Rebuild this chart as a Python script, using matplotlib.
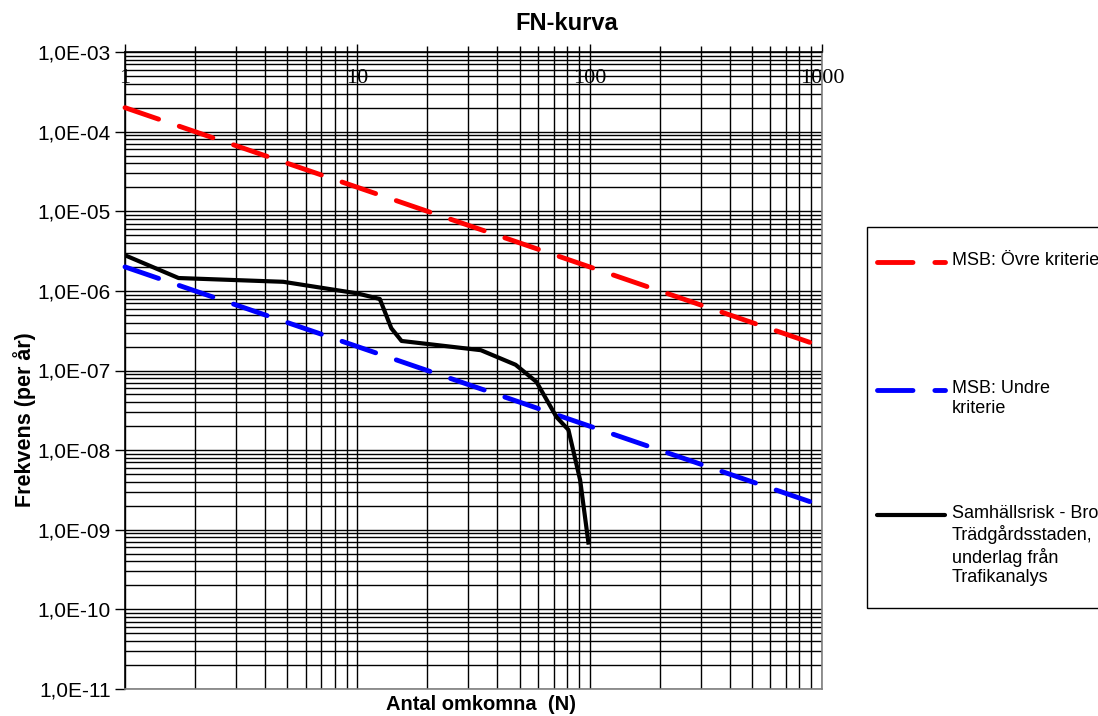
import matplotlib
matplotlib.use("Agg")
import matplotlib.pyplot as plt
from matplotlib.ticker import LogLocator, FuncFormatter, NullFormatter, FixedLocator
from matplotlib.lines import Line2D
from matplotlib.patches import Rectangle
import numpy as np

plt.rcParams['font.family'] = ['Liberation Sans', 'DejaVu Sans']

# kriterielinjer (MSB)
n_krit = [1, 1000]
ovre = [2e-4, 2e-7]
undre = [2e-6, 2e-9]

# samhällsrisk
n_risk = [1.0, 1.7, 4.8, 10.0, 12.5, 14.0, 15.5, 34.0, 48.0, 59.0, 72.0, 81.0, 91.0, 99.0]
f_risk = [2.8e-6, 1.45e-6, 1.3e-6, 9.3e-7, 7.9e-7, 3.4e-7, 2.35e-7, 1.8e-7,
          1.18e-7, 7.2e-8, 2.6e-8, 1.8e-8, 4.2e-9, 6.5e-10]

x_ticks = [1, 10, 100, 1000]
x_ticklabels = ['1', '10', '100', '1000']

W, H = 1098, 716
streck = (7.3, 4.5)

fig = plt.figure(figsize=(10.98, 7.16), dpi=100)
ax = fig.add_axes([125/W, 27/H, 697/W, 637/H])

ax.set_xscale('log')
ax.set_yscale('log')
ax.set_xlim(1, 1000)
ax.set_ylim(1e-11, 1e-3)

ax.plot(n_krit, ovre, color='#ff0000', lw=3.5, dashes=streck,
        dash_capstyle='round', clip_on=False, zorder=3)
ax.plot(n_krit, undre, color='#0000ff', lw=3.5, dashes=streck,
        dash_capstyle='round', clip_on=False, zorder=3)
ax.plot(n_risk, f_risk, color='black', lw=3, solid_joinstyle='round',
        solid_capstyle='butt', zorder=4)

# rutnät
ax.xaxis.set_major_locator(FixedLocator(x_ticks))
ax.xaxis.set_minor_locator(LogLocator(base=10, subs=np.arange(2, 10), numticks=20))
ax.yaxis.set_major_locator(LogLocator(base=10, numticks=20))
ax.yaxis.set_minor_locator(LogLocator(base=10, subs=np.arange(2, 10), numticks=20))
ax.xaxis.set_minor_formatter(NullFormatter())
ax.yaxis.set_minor_formatter(NullFormatter())
ax.grid(True, which='both', color='black', lw=1)
ax.set_axisbelow(True)

ax.set_xticklabels(x_ticklabels, fontfamily='Liberation Serif', fontsize=16)
ax.tick_params(axis='x', which='both', top=True, bottom=False, labeltop=True,
               labelbottom=False, direction='out')
ax.tick_params(axis='x', which='major', length=6, pad=-32, width=1)
ax.tick_params(axis='x', which='minor', length=4, width=1)
ax.tick_params(axis='y', which='major', length=7, width=1, labelsize=15, pad=3)
ax.tick_params(axis='y', which='minor', length=0)

def fmt(v, pos):
    e = int(round(np.log10(v)))
    return "1,0E-%02d" % (-e)
ax.yaxis.set_major_formatter(FuncFormatter(fmt))

ax.spines['left'].set_color('black')
ax.spines['top'].set_color('black')
ax.spines['right'].set_color('#808080')
ax.spines['bottom'].set_color('#808080')
for s in ax.spines.values():
    s.set_linewidth(1.2)

fig.text(25/W, 1 - 420/H, 'Frekvens (per år)', fontsize=15.5, fontweight='bold',
         rotation=90, ha='center', va='center')
fig.text(481/W, 1 - 705/H, 'Antal omkomna  (N)', fontsize=14.5,
         fontweight='bold', ha='center', va='center')
fig.text(567/W, 1 - 23/H, 'FN-kurva', fontsize=17, fontweight='bold',
         ha='center', va='center')

# förklaring
fig.add_artist(Rectangle((867/W, 1 - 608/H), 300/W, (608 - 227)/H,
                         transform=fig.transFigure, fill=False,
                         ec='black', lw=1))
poster = [
    ('#ff0000', True, 262, 'MSB: Övre kriterie'),
    ('#0000ff', True, 390, 'MSB: Undre\nkriterie'),
    ('black', False, 515, 'Samhällsrisk - Bro\nTrädgårdsstaden,\nunderlag från\nTrafikanalys'),
]
for farg, streckad, ypix, text in poster:
    y = 1 - ypix/H
    if streckad:
        ln = Line2D([877/W, 945/W], [y, y], color=farg, lw=3.5, dashes=streck,
                    dash_capstyle='round', transform=fig.transFigure)
    else:
        ln = Line2D([877/W, 945/W], [y, y], color=farg, lw=3,
                    solid_capstyle='round', transform=fig.transFigure)
    fig.add_artist(ln)
    fig.text(952/W, y + 10/H, text, fontsize=13, ha='left', va='top',
             linespacing=1.22)

fig.savefig('out.png', dpi=100)
